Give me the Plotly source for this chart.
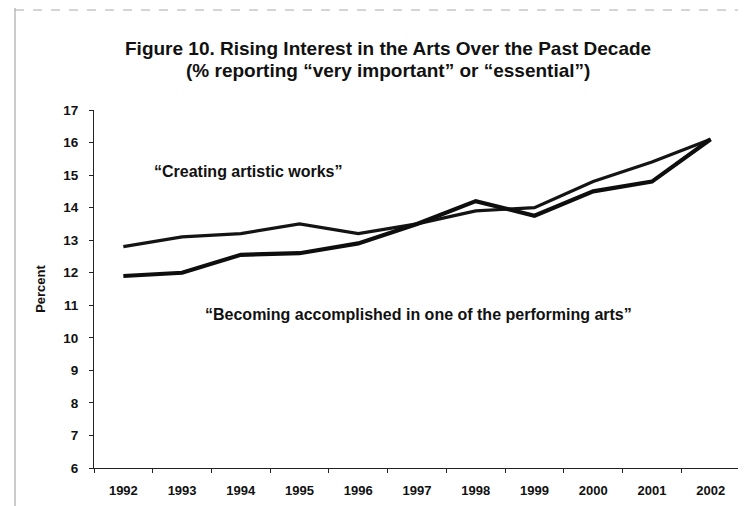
import plotly.graph_objects as go

years = ["1992", "1993", "1994", "1995", "1996", "1997", "1998", "1999", "2000", "2001", "2002"]
creating = [12.8, 13.1, 13.2, 13.5, 13.2, 13.5, 13.9, 14.0, 14.8, 15.4, 16.1]
performing = [11.9, 12.0, 12.55, 12.6, 12.9, 13.5, 14.2, 13.75, 14.5, 14.8, 16.1]
y_ticks = list(range(6, 18))
title_lines = ["Figure 10. Rising Interest in the Arts Over the Past Decade",
               "(% reporting “very important” or “essential”)"]
labels = ["“Creating artistic works”",
          "“Becoming accomplished in one of the performing arts”"]

FONT = "Liberation Sans, Arial, sans-serif"
W, H = 746, 506
L, R, T, B = 86, 14, 102, 46
PW, PH = W - L - R, H - T - B


def px(x):
    return (x - L) / PW


def py(y):
    return (H - B - y) / PH


fig = go.Figure()
fig.add_trace(go.Scatter(x=years, y=creating, mode="lines",
                         line=dict(color="#141414", width=3.2), name=labels[0]))
fig.add_trace(go.Scatter(x=years, y=performing, mode="lines",
                         line=dict(color="#0e0e0e", width=4.2), name=labels[1]))

fig.update_layout(
    width=W, height=H,
    margin=dict(l=L, r=R, t=T, b=B),
    paper_bgcolor="white", plot_bgcolor="white",
    showlegend=False,
    font=dict(family=FONT, color="#111", size=13),
    xaxis=dict(
        type="category", tickson="boundaries", ticks="outside", ticklen=4, tickwidth=1,
        tickcolor="#222", showline=True, linecolor="#222", linewidth=1,
        showgrid=False, tickfont=dict(family=FONT, size=13, color="#111"),
        tickmode="array", tickvals=years, ticktext=["<b>" + y + "</b>" for y in years],
        range=[-0.5, 10.5], ticklabelstandoff=10,
    ),
    yaxis=dict(
        range=[6, 17], tickmode="array", tickvals=y_ticks,
        ticktext=["<b>" + str(v) + "</b>" for v in y_ticks],
        ticks="outside", ticklen=4, tickwidth=1,
        tickcolor="#222", showline=True, linecolor="#222", linewidth=1,
        showgrid=False, zeroline=False,
        tickfont=dict(family=FONT, size=13.5, color="#111"),
        ticklabelstandoff=8,
        title=dict(text="<b>Percent</b>", font=dict(family=FONT, size=13, color="#111"), standoff=14),
    ),
    annotations=[
        dict(text="<b>" + title_lines[0] + "</b>", xref="paper", yref="paper",
             x=px(380), y=py(40), xanchor="center", yanchor="middle", showarrow=False,
             font=dict(family=FONT, size=19, color="#111")),
        dict(text="<b>" + title_lines[1] + "</b>", xref="paper", yref="paper",
             x=px(380), y=py(63), xanchor="center", yanchor="middle", showarrow=False,
             font=dict(family=FONT, size=19, color="#111")),
        dict(text="<b>" + labels[0] + "</b>", xref="paper", yref="paper",
             x=px(240), y=py(163), xanchor="center", yanchor="middle", showarrow=False,
             font=dict(family=FONT, size=16, color="#111")),
        dict(text="<b>" + labels[1] + "</b>", xref="paper", yref="paper",
             x=px(410), y=py(306), xanchor="center", yanchor="middle", showarrow=False,
             font=dict(family=FONT, size=16, color="#111")),
    ],
    shapes=[
        dict(type="line", xref="paper", yref="paper", x0=px(7), x1=px(7), y0=py(506), y1=py(0),
             line=dict(color="#999", width=1)),
        dict(type="line", xref="paper", yref="paper", x0=px(7), x1=px(746), y0=py(2), y1=py(2),
             line=dict(color="#aaa", width=1, dash="dash")),
    ],
)

fig.write_html("out.html")
